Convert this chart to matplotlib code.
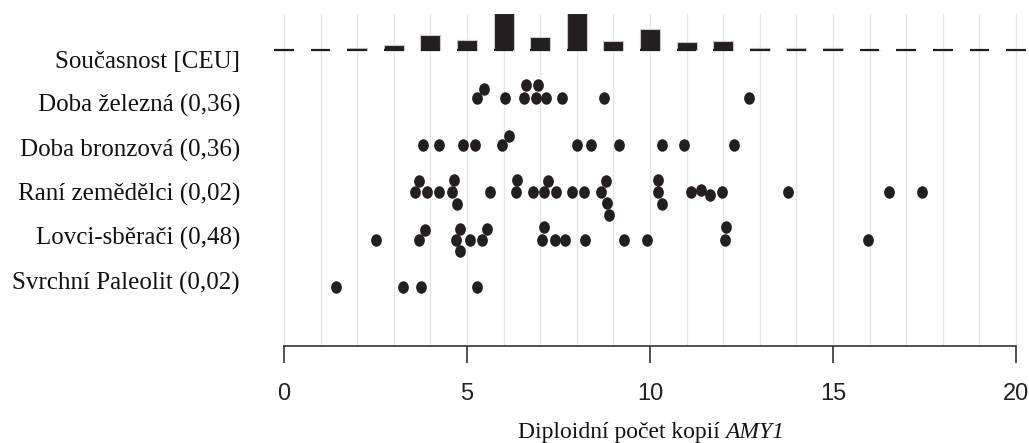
import numpy as np
import matplotlib
matplotlib.use("Agg")
import matplotlib.pyplot as plt
from matplotlib.path import Path
from matplotlib.transforms import Affine2D, blended_transform_factory

# dnešní populace CEU - histogram (počet jedinců v každém počtu kopií)
ceu_bins = np.arange(0, 21)
ceu_counts = [0, 0, 1, 2, 6, 4, 14, 5, 14, 3.5, 8, 3, 3.5, 1, 1, 1, 0, 0, 0, 0, 0]

# starověké vzorky - odhady počtu kopií AMY1
iron_age = [5.26, 5.46, 6.04, 6.57, 6.61, 6.88, 6.93, 7.16, 7.60, 8.75, 12.71]
bronze_age = [3.80, 4.24, 4.90, 5.23, 5.96, 6.15, 8.01, 8.39, 9.16, 10.32, 10.93, 12.30]
farmers = [3.58, 3.68, 3.90, 4.24, 4.60, 4.64, 4.72, 5.64, 6.34, 6.36, 6.80, 7.10,
           7.20, 7.43, 7.86, 8.19, 8.67, 8.79, 8.83, 8.88, 10.21, 10.23, 10.32,
           11.11, 11.38, 11.63, 11.98, 13.77, 16.53, 17.44]
hunters = [2.52, 3.68, 3.85, 4.69, 4.82, 4.82, 5.08, 5.41, 5.54, 7.06, 7.11, 7.40,
           7.69, 8.23, 9.30, 9.93, 12.04, 12.07, 15.96]
paleolithic = [1.42, 3.24, 3.74, 5.26]

labels = ["Svrchní Paleolit (0,02)", "Lovci-sběrači (0,48)", "Raní zemědělci (0,02)",
          "Doba bronzová (0,36)", "Doba železná (0,36)", "Současnost [CEU]"]
groups = [paleolithic, hunters, farmers, bronze_age, iron_age]

dark = '#231f20'


def swarm(xs_px, xsize, ysize):
    # jednoduchý beeswarm: body podle pořadí, co nejblíž k ose
    xs_px = np.asarray(xs_px, dtype=float)
    out = np.zeros(len(xs_px))
    px_list, py_list = [], []
    for i in np.argsort(xs_px, kind='stable'):
        x = xs_px[i]
        cand = [0.0]
        for px, py in zip(px_list, py_list):
            dx = (x - px) / xsize
            if abs(dx) < 1:
                off = np.sqrt(1 - dx * dx) * ysize
                cand += [py + off, py - off]
        good = [c for c in cand
                if all(((x - px) / xsize) ** 2 + ((c - py) / ysize) ** 2 >= 0.999
                       for px, py in zip(px_list, py_list))]
        best = min(good, key=abs)
        out[i] = best
        px_list.append(x)
        py_list.append(best)
    return out


fig = plt.figure(figsize=(10.29, 4.43), dpi=100)
ax = fig.add_axes([271.2 / 1029, 97 / 443, 757.6 / 1029, 332 / 443])
ax.set_xlim(-0.35, 20.35)
ax.set_ylim(-1.247, 5.77)

for s in ['left', 'right', 'top']:
    ax.spines[s].set_visible(False)
ax.spines['bottom'].set_bounds(0, 20)
ax.spines['bottom'].set_color('#333333')
ax.spines['bottom'].set_linewidth(1.2)
ax.set_yticks([])
ax.set_xticks([0, 5, 10, 15, 20])
ax.set_xticks(range(21), minor=True)
ax.tick_params(axis='x', which='major', length=12, width=1.2, color='#333333',
               pad=14.5, labelsize=17, labelcolor='#222222')
ax.tick_params(axis='x', which='minor', length=0)
for t in ax.get_xticklabels():
    t.set_fontfamily('Liberation Sans')
ax.grid(axis='x', which='both', color='#e6e6e6', lw=1.0)
ax.set_axisbelow(True)

# histogram současné populace
base = 5.0
scale = 0.056
ax.bar(ceu_bins, np.array(ceu_counts) * scale, bottom=base, width=0.55,
       color=dark, edgecolor='#c8c8c8', lw=0.8, zorder=3)
ax.hlines([base] * len(ceu_bins), ceu_bins - 0.27, ceu_bins + 0.27,
          color=dark, lw=1.6, zorder=3)

# beeswarm body
fig.canvas.draw()
p0 = ax.transData.transform((0, 0))
p1 = ax.transData.transform((1, 1))
sx, sy = p1[0] - p0[0], p1[1] - p0[1]
ellipse = Path.unit_circle().transformed(Affine2D().scale(0.86, 1.0))
for row, vals in enumerate(groups):
    offs = swarm(np.array(vals) * sx, 10.0, 12.5) / sy
    ax.plot(vals, row + offs, ls='none', marker=ellipse, ms=9.0,
            color=dark, mew=0, zorder=4)

# popisky řádků
tr = blended_transform_factory(fig.transFigure, ax.transData)
for i, lab in enumerate(labels):
    fig.text(240 / 1029, 0.08 + 0.937 * i, lab, transform=tr, ha='right',
             va='center', fontsize=18, family='Liberation Serif', color='#111111')

# popisek osy x, AMY1 kurzívou
y_lab = 5 / 443
t1 = fig.text(0, y_lab, "Diploidní počet kopií", ha='left', va='baseline',
              fontsize=17, family='Liberation Serif', color='#111111')
t2 = fig.text(0, y_lab, "AMY1", ha='left', va='baseline', fontsize=17,
              family='Liberation Serif', style='italic', color='#111111')
r = fig.canvas.get_renderer()
w1 = t1.get_window_extent(r).width
w2 = t2.get_window_extent(r).width
gap = 5
start = 651 - (w1 + gap + w2) / 2
t1.set_x(start / 1029)
t2.set_x((start + w1 + gap) / 1029)

fig.savefig('out.png', dpi=100)
